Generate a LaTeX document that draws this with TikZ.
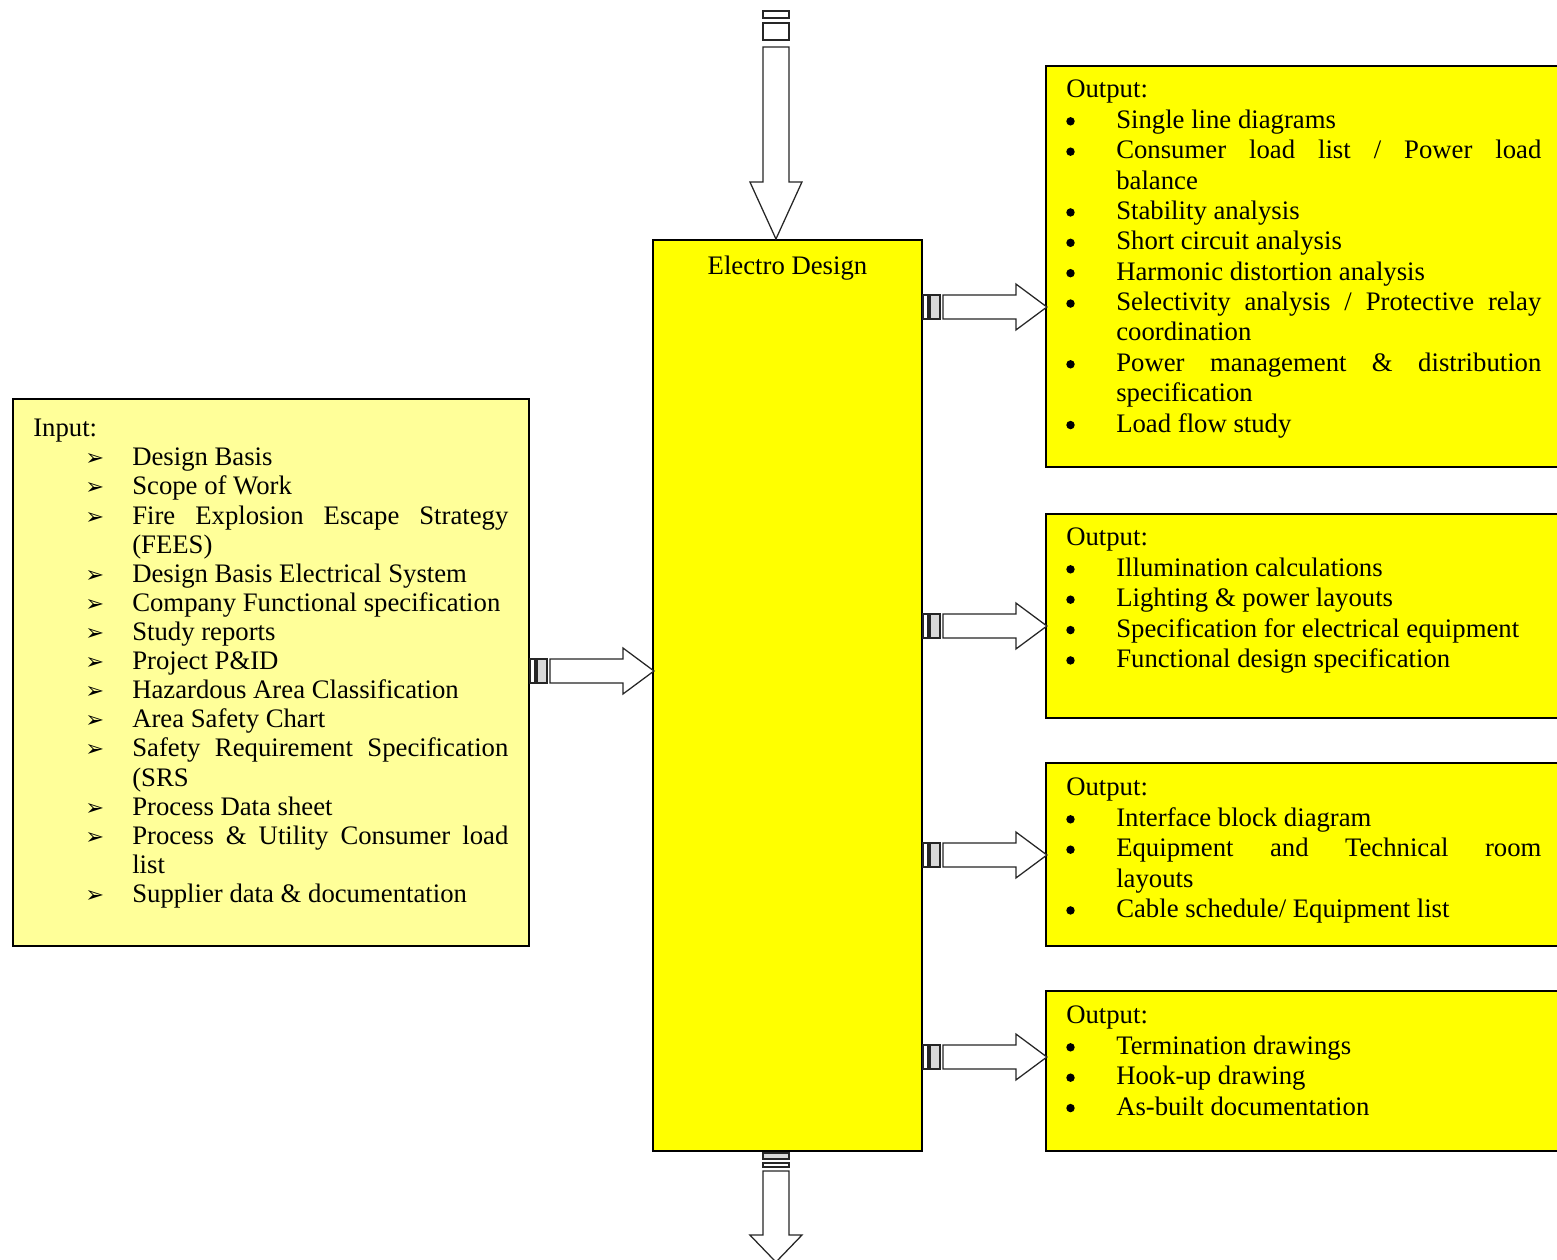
\documentclass[tikz,border=0pt]{standalone}
\usepackage{fontspec}
\setmainfont{Liberation Serif}
\newfontfamily\dingfont{DejaVu Sans}
\usetikzlibrary{positioning}

\definecolor{boxyellow}{RGB}{255,255,0}
\definecolor{inyellow}{RGB}{255,255,153}
\setlength{\parindent}{0pt}

\newcommand{\insize}{\fontsize{19}{20.7}\selectfont}
\newcommand{\outsize}{\fontsize{19}{21.6}\selectfont}
\newcommand{\initem}[1]{\par\noindent\hangindent=2.475cm\hangafter=1\hspace*{1.3cm}\makebox[1.175cm][l]{\dingfont\fontsize{16}{16}\selectfont ➢}#1}
\newcommand{\outitem}[1]{\par\noindent\hangindent=1.25cm\hangafter=1\makebox[1.25cm][l]{\tikz[baseline=0pt]\fill (5pt,5pt) circle (3pt);}#1}

\tikzset{
  box/.style={draw=black,line width=1.3pt,anchor=north west,inner sep=0pt},
  listtext/.style={anchor=north west,inner sep=0pt,text width=11.875cm,align=justify},
  blockarrow/.style={draw=black!85,fill=white,line width=0.9pt,line join=miter},
}

\begin{document}
\begin{tikzpicture}[x=0.025cm,y=-0.025cm]
\useasboundingbox (0,0) rectangle (1557,1260);
\clip (0,0) rectangle (1557,1260);
\node[box,fill=inyellow,minimum width=12.9cm,minimum height=13.675cm] (input) at (12,398) {};
\node[box,fill=boxyellow,minimum width=6.725cm,minimum height=22.775cm] (design) at (652,239) {};
\node[box,fill=boxyellow,minimum width=13.5cm,minimum height=10.025cm] (out1) at (1045,65) {};
\node[box,fill=boxyellow,minimum width=13.5cm,minimum height=5.1cm] (out2) at (1045,513) {};
\node[box,fill=boxyellow,minimum width=13.5cm,minimum height=4.575cm] (out3) at (1045,762) {};
\node[box,fill=boxyellow,minimum width=13.5cm,minimum height=4cm] (out4) at (1045,990) {};
\node[font=\outsize] (title) at ([yshift=-0.72cm]design.north) {Electro Design};
\node[listtext,font=\insize] (intext) at ([shift={(21,21)}]input.north west) {Input:
\initem{Design Basis}
\initem{Scope of Work}
\initem{Fire Explosion Escape Strategy\linebreak (FEES)}
\initem{Design Basis Electrical System}
\initem{Company Functional specification}
\initem{Study reports}
\initem{Project P\&ID}
\initem{Hazardous Area Classification}
\initem{Area Safety Chart}
\initem{Safety Requirement Specification\linebreak (SRS}
\initem{Process Data sheet}
\initem{Process \& Utility Consumer load\linebreak list}
\initem{Supplier data \& documentation}};
\node[listtext,font=\outsize] (text1) at ([shift={(21,15)}]out1.north west) {Output:
\outitem{Single line diagrams}
\outitem{Consumer load list / Power load\linebreak balance}
\outitem{Stability analysis}
\outitem{Short circuit analysis}
\outitem{Harmonic distortion analysis}
\outitem{Selectivity analysis / Protective relay\linebreak coordination}
\outitem{Power management \& distribution\linebreak specification}
\outitem{Load flow study}};
\node[listtext,font=\outsize] (text2) at ([shift={(21,15)}]out2.north west) {Output:
\outitem{Illumination calculations}
\outitem{Lighting \& power layouts}
\outitem{Specification for electrical equipment}
\outitem{Functional design specification}};
\node[listtext,font=\outsize] (text3) at ([shift={(21,16)}]out3.north west) {Output:
\outitem{Interface block diagram}
\outitem{Equipment and Technical room\linebreak layouts}
\outitem{Cable schedule/ Equipment list}};
\node[listtext,font=\outsize] (text4) at ([shift={(21,16)}]out4.north west) {Output:
\outitem{Termination drawings}
\outitem{Hook-up drawing}
\outitem{As-built documentation}};
\begin{scope}[shift={(input.east |- 0,671)}]
\draw[blockarrow] (0,-12) rectangle (5,12);
\draw[blockarrow,fill=black!15] (7,-12) rectangle (17,12);
\draw[blockarrow] (20,-12)--(93,-12)--(93,-23)--(124,0)--(93,23)--(93,12)--(20,12)--cycle;
\end{scope}
\foreach \y in {307,626,855,1057} {
\begin{scope}[shift={(design.east |- 0,\y)}]
\draw[blockarrow] (0,-12) rectangle (5,12);
\draw[blockarrow,fill=black!15] (7,-12) rectangle (17,12);
\draw[blockarrow] (20,-12)--(93,-12)--(93,-23)--(124,0)--(93,23)--(93,12)--(20,12)--cycle;
\end{scope}
}
\begin{scope}[shift={(design.north)}]
\draw[blockarrow] (-24.5,-228) rectangle (1.5,-221);
\draw[blockarrow] (-24.5,-216) rectangle (1.5,-199);
\draw[blockarrow] (-24.5,-192)--(1.5,-192)--(1.5,-57)--(14.5,-57)--(-11.5,0)--(-37.5,-57)--(-24.5,-57)--cycle;
\end{scope}
\begin{scope}[shift={(design.south)}]
\draw[blockarrow,fill=black!15] (-24.5,1) rectangle (1.5,7);
\draw[blockarrow] (-24.5,11) rectangle (1.5,15);
\draw[blockarrow] (-24.5,19)--(1.5,19)--(1.5,83)--(14.5,83)--(-11.5,110)--(-37.5,83)--(-24.5,83)--cycle;
\end{scope}
\end{tikzpicture}
\end{document}
